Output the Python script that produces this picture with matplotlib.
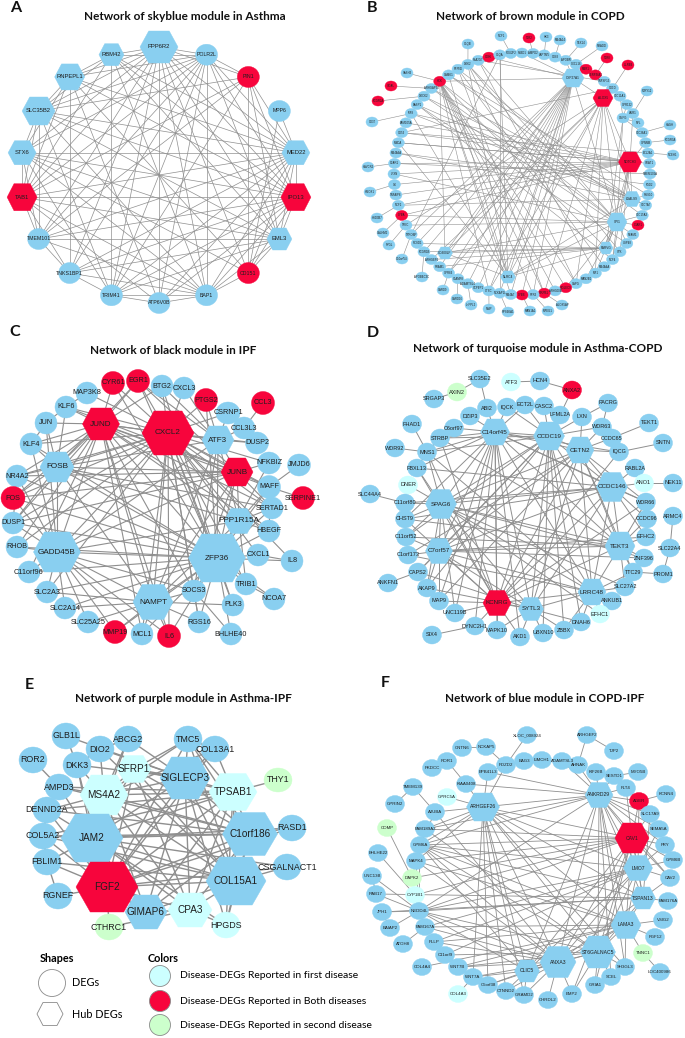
import numpy as np
import matplotlib.pyplot as plt
from matplotlib.patches import Ellipse, Polygon
from matplotlib.collections import LineCollection

# colour groups: 1 = reported in both diseases, 2 = reported in first disease,
# 3 = reported in second disease, anything not listed = plain module DEG (0)

# ---------------- A: skyblue module in Asthma ----------------
A_genes = ['PPP6R2', 'POLR2L', 'PIN1', 'MPP6', 'MED22', 'IPO13', 'EML3', 'CD151', 'BAP1',
           'ATP6V0B', 'TRIM41', 'TNKS1BP1', 'TMEM101', 'TAB1', 'STX6', 'SLC35B2', 'RNPEPL1', 'RBM42']
A_hubs = ['PPP6R2', 'MED22', 'IPO13', 'EML3', 'TAB1', 'STX6', 'SLC35B2', 'RNPEPL1', 'RBM42']
A_groups = {'PIN1': 1, 'IPO13': 1, 'CD151': 1, 'TAB1': 1}
A_edges = """
PPP6R2: RBM42 POLR2L RNPEPL1 SLC35B2 STX6 TAB1 TMEM101 TNKS1BP1 TRIM41 ATP6V0B BAP1 CD151 EML3 IPO13 MED22 PIN1
RBM42: POLR2L RNPEPL1 SLC35B2 TRIM41 IPO13 MED22 EML3 TAB1 BAP1
RNPEPL1: SLC35B2 STX6 TNKS1BP1 MED22 IPO13 POLR2L ATP6V0B CD151 TAB1
SLC35B2: STX6 TAB1 TMEM101 MED22 IPO13 EML3 BAP1 POLR2L PIN1 TRIM41
STX6: TAB1 TMEM101 MED22 IPO13 EML3 BAP1 POLR2L TRIM41 CD151
TAB1: TMEM101 TNKS1BP1 IPO13 EML3 MED22 POLR2L BAP1 ATP6V0B PIN1
TMEM101: TNKS1BP1 EML3 IPO13 MED22 POLR2L BAP1 PIN1
TNKS1BP1: TRIM41 IPO13 MED22 POLR2L EML3 BAP1
TRIM41: ATP6V0B BAP1 IPO13 MED22 POLR2L PIN1 EML3
ATP6V0B: BAP1 IPO13 MED22 POLR2L
BAP1: POLR2L IPO13 MED22 CD151 EML3
CD151: PIN1 IPO13 MED22 EML3
EML3: IPO13 MED22 POLR2L PIN1
IPO13: MED22 POLR2L PIN1
MED22: POLR2L PIN1 MPP6
MPP6: CD151
POLR2L: PIN1
"""

# ---------------- B: brown module in COPD ----------------
B_ring = ['LPXN', 'C5AR1', 'MS4A6A', 'MNDA', 'CD53', 'FAM105A', 'IRF8', 'BASP1', 'DOCK2',
          'ARHGAP30', 'HCK', 'CAMK1', 'PTPN6', 'DOK2', 'PLA2G7', 'CD86', 'C1QA', 'POU2F2',
          'PLBD1', 'AMPD2', 'LAPTM5', 'CD83', 'APOBR', 'CXCL16', 'MSR1', 'SERPINA1', 'TNFSF13',
          'CD1D', 'SLC11A1', 'GPR132', 'LAIR1', 'NPL', 'SLC36A1', 'GPNMB', 'BCL2A1', 'SOAT1',
          'TMEM106A', 'FGD2', 'RGS10', 'SLC7A7', 'SLC15A3', 'C3AR1', 'NFAM1', 'USP48', 'SYK',
          'NCF4', 'MS4A4A', 'MR1', 'MAN2B1', 'CAPG', 'SIGLEC9', 'ARHGDIB', 'SIRPB1', 'FPR3',
          'CYBB', 'MS4A7', 'NCKAP1L', 'CTSC', 'SCPEP1', 'ADAMTSL4', 'SLAMF8', 'GPR84', 'PRAM1',
          'ARHGEF6', 'FCGR1B', 'RCSD1', 'TYROBP', 'TFEC', 'CYBA', 'NCF2', 'TNFAIP8', 'GK']
B_outer = ['SASH3', 'ITGAL', 'FCGR2A', 'CD37', 'HAVCR2', 'HMOX1', 'HSD3B7', 'CALHM2', 'PYGL',
           'C10orf54', 'APOBEC3C', 'CARD9', 'CARD16', 'LHFPL2', 'NAIP', 'RPS6KA1', 'MAN1A1',
           'MPEG1', 'ALOX5AP', 'C1QB', 'NCF1', 'TLR2', 'HK3', 'MS4A14', 'TEX14', 'NRADD',
           'TLR8', 'LILRB4', 'P2RY12', 'HAGH', 'FCGR3A', 'NCEH1']
B_inner = ['CYP27A1', 'ALOX5', 'NOTCH3', 'LGALS9', 'SPI1', 'NLRC4', 'CD300LF', 'PARVG', 'GMFG']
B_hubs = ['CYP27A1', 'ALOX5', 'NOTCH3', 'LGALS9', 'SPI1', 'NLRC4', 'CD300LF', 'PARVG']
B_groups = {g: 1 for g in ['HCK', 'CD86', 'MSR1', 'SERPINA1', 'C3AR1', 'SIGLEC9', 'SIRPB1',
                           'CYBB', 'CYBA', 'ALOX5', 'NOTCH3', 'ITGAL', 'FCGR2A', 'TLR2',
                           'TLR8', 'LILRB4']}
B_edges = """
CYP27A1: ALOX5 PLBD1 SPI1 CD86 HCK FCGR1B NCKAP1L CTSC SCPEP1 ADAMTSL4 MS4A7 CYBB NLRC4 CD300LF TYROBP RCSD1 FPR3 GPR84 SLAMF8 APOBR PRAM1 CXCL16
ALOX5: SPI1 NOTCH3 LGALS9 CTSC NLRC4 SIRPB1 CAPG GPR84 ARHGEF6 MR1 CD300LF TFEC
NOTCH3: LGALS9 SPI1 PARVG MNDA CD53 FAM105A IRF8 C5AR1 LPXN GK NCF2 TNFAIP8 CYBA SYK NCF4 GPNMB LAIR1
LGALS9: SPI1 MS4A6A IRF8 BASP1 DOCK2 PTPN6 NCF2 SLC7A7 RGS10 NLRC4
SPI1: PARVG HCK DOK2 PLA2G7 ARHGAP30 CYBA TFEC NLRC4 CD300LF SIGLEC9 MAN2B1 MR1 NCF4 USP48 C3AR1 SLC15A3 LPXN
HCK: NLRC4 CD300LF MS4A7 CTSC SIRPB1 FPR3 PARVG ARHGDIB CAPG SIGLEC9
NLRC4: CD300LF PARVG DOK2 C1QA CAMK1 IRF8 MNDA
PARVG: CD300LF FCGR1B RCSD1 PRAM1 ARHGEF6 GMFG
GMFG: SLC11A1 GPR132 LAIR1 NPL SLC36A1 SPI1
PTPN6: SIRPB1 MS4A4A
DOK2: SYK CAPG
PLA2G7: MR1 TNFSF13
C1QA: NCKAP1L TYROBP
BASP1: USP48 NCF4
DOCK2: NFAM1
ARHGAP30: SLC7A7
CAMK1: SLC15A3 RGS10
MS4A6A: FGD2
C5AR1: TMEM106A
MNDA: SOAT1
CD53: BCL2A1 CD1D
SASH3: HCK
ITGAL: ARHGAP30
FCGR2A: DOCK2
CD37: IRF8
HAVCR2: C5AR1
HMOX1: GK
HSD3B7: NCF2
CALHM2: CYBA
PYGL: TFEC
C10orf54: TYROBP
APOBEC3C: FCGR1B
CARD9: GPR84
CARD16: SLAMF8
LHFPL2: ADAMTSL4
NAIP: CTSC
RPS6KA1: NCKAP1L
MAN1A1: CYBB
MPEG1: FPR3
ALOX5AP: SIRPB1
C1QB: DOK2
NCF1: POU2F2
TLR2: AMPD2
HK3: LAPTM5
MS4A14: CD83
TEX14: APOBR
NRADD: CXCL16
TLR8: SERPINA1
LILRB4: CD1D
P2RY12: LAIR1
HAGH: SLC36A1
FCGR3A: GPNMB
NCEH1: BCL2A1
"""

# ---------------- C: black module in IPF ----------------
C_genes = ['CYR61', 'EGR1', 'BTG2', 'CXCL3', 'PTGS2', 'CCL3', 'MAP3K8', 'KLF6', 'JUND', 'CXCL2',
           'CSRNP1', 'CCL3L3', 'ATF3', 'DUSP2', 'JUN', 'KLF4', 'FOSB', 'NR4A2', 'JUNB', 'NFKBIZ',
           'JMJD6', 'MAFF', 'SERPINE1', 'FOS', 'SERTAD1', 'PPP1R15A', 'HBEGF', 'DUSP1', 'RHOB',
           'GADD45B', 'ZFP36', 'CXCL1', 'IL8', 'C11orf96', 'SLC2A3', 'SOCS3', 'TRIB1', 'NCOA7',
           'NAMPT', 'SLC2A14', 'PLK3', 'SLC25A25', 'RGS16', 'MMP19', 'MCL1', 'IL6', 'BHLHE40']
C_hubs = ['JUND', 'CXCL2', 'ATF3', 'FOSB', 'JUNB', 'PPP1R15A', 'GADD45B', 'ZFP36', 'NAMPT']
C_groups = {g: 1 for g in ['CYR61', 'EGR1', 'PTGS2', 'CCL3', 'JUND', 'CXCL2', 'JUNB', 'FOS',
                           'SERPINE1', 'MMP19', 'IL6']}
C_edges = """
CXCL2: JUND FOSB ATF3 ZFP36 GADD45B NAMPT JUNB PTGS2 EGR1 CYR61 CXCL3 BTG2 CSRNP1 IL6 MCL1 SOCS3 CXCL1 IL8 PPP1R15A NR4A2 FOS DUSP1 KLF4 SERTAD1 MAFF NFKBIZ TRIB1 PLK3 RGS16 HBEGF KLF6 MAP3K8 DUSP2 SLC2A3 RHOB
JUND: EGR1 CYR61 KLF6 JUN KLF4 FOSB NR4A2 FOS GADD45B ZFP36 NAMPT JUNB ATF3 PPP1R15A SOCS3 MAFF DUSP1 RHOB HBEGF BTG2 C11orf96 MCL1 SERTAD1 IL6
ZFP36: GADD45B FOSB JUNB ATF3 PPP1R15A NAMPT SOCS3 CXCL1 IL8 TRIB1 NCOA7 PLK3 RGS16 BHLHE40 MCL1 IL6 MMP19 HBEGF SERTAD1 MAFF NFKBIZ DUSP1 FOS RHOB C11orf96 SLC2A3 SLC2A14 EGR1 CYR61 BTG2 KLF4 NR4A2 PTGS2
GADD45B: FOSB DUSP1 RHOB C11orf96 SLC2A3 SLC2A14 NAMPT SLC25A25 MMP19 ATF3 JUNB PPP1R15A SOCS3 KLF4 JUN FOS NR4A2 MCL1 IL6
FOSB: KLF4 NR4A2 FOS JUN KLF6 JUNB ATF3 DUSP1 NAMPT EGR1 SERTAD1 PPP1R15A
ATF3: CSRNP1 CCL3L3 DUSP2 JUNB PTGS2 BTG2 NAMPT PPP1R15A SOCS3 EGR1 CXCL3
JUNB: NFKBIZ MAFF SERTAD1 PPP1R15A DUSP1 FOS NR4A2 NAMPT SOCS3 KLF6 EGR1
NAMPT: SOCS3 MCL1 IL6 MMP19 SLC25A25 SLC2A14 SLC2A3 RGS16 PLK3 PPP1R15A
MAFF: JMJD6 SERPINE1 SERTAD1 HBEGF PPP1R15A
PPP1R15A: HBEGF SERTAD1 TRIB1
CXCL1: IL8
TRIB1: NCOA7
CCL3: CCL3L3
DUSP1: NR4A2
KLF4: JUN
KLF6: JUN MAP3K8
SOCS3: RGS16 BHLHE40
"""

# ---------------- D: turquoise module in Asthma-COPD ----------------
D_genes = ['SLC35E2', 'ATF3', 'HCN4', 'ANXA2', 'AXIN2', 'SRGAP3', 'ABI2', 'IQCK', 'ECT2L', 'CASC2',
           'LFML2A', 'PACRG', 'DZIP3', 'C6orf97', 'FHAD1', 'C14orf45', 'CCDC19', 'LXN', 'WDR63',
           'TEKT1', 'STRBP', 'CCDC65', 'SNTN', 'WDR92', 'MNS1', 'CETN2', 'IQCG', 'FBXL13',
           'RABL2A', 'DNER', 'CCDC146', 'ANO1', 'NEK11', 'SLC44A4', 'C11orf80', 'SPAG6', 'WDR66',
           'CHST9', 'CCDC96', 'ARMC4', 'C11orf52', 'EFHC2', 'C7orf57', 'TEKT3', 'SLC22A4',
           'C1orf173', 'ZNF396', 'TTC29', 'PROM1', 'CAPS2', 'ANKFN1', 'AKAP9', 'SLC27A2',
           'LRRC48', 'ANKUB1', 'MAP9', 'KCNRG', 'SYTL3', 'UNC119B', 'EFHC1', 'SIX4', 'DYNC2H1',
           'MAPK10', 'AKD1', 'UBXN10', 'ZBBX', 'DNAH6']
D_hubs = ['C14orf45', 'CCDC19', 'CETN2', 'CCDC146', 'SPAG6', 'C7orf57', 'TEKT3', 'LRRC48',
          'KCNRG', 'SYTL3']
D_groups = {'ANXA2': 1, 'KCNRG': 1, 'ATF3': 2, 'DNER': 2, 'ANO1': 2, 'EFHC1': 2, 'AXIN2': 3}
D_edges = """
C14orf45: ABI2 IQCK ECT2L DZIP3 C6orf97 STRBP MNS1 CCDC19 CETN2 SPAG6 C7orf57 TEKT3 LRRC48 KCNRG SYTL3 CCDC146 FBXL13 CHST9 MAP9 UNC119B AKD1 MAPK10 DYNC2H1 IQCG WDR66
CCDC19: CASC2 LFML2A LXN ECT2L IQCK CETN2 SPAG6 C7orf57 TEKT3 LRRC48 KCNRG SYTL3 CCDC146 MNS1 STRBP WDR63 AKAP9 CAPS2 ZBBX UBXN10 DNAH6 C11orf52
CETN2: LXN WDR63 CCDC65 IQCG CCDC146 TEKT3 LRRC48 KCNRG SPAG6 C7orf57 SYTL3 WDR66 TTC29 MAP9 C1orf173
CCDC146: RABL2A ANO1 WDR66 CCDC96 EFHC2 TEKT3 SPAG6 C7orf57 KCNRG LRRC48 FBXL13 C11orf80 CHST9 SYTL3
SPAG6: DNER C11orf80 CHST9 C11orf52 C7orf57 MNS1 FBXL13 TEKT3 LRRC48 KCNRG SYTL3 ZNF396 SLC27A2 AKAP9 UNC119B EFHC1
C7orf57: C11orf52 C1orf173 CAPS2 AKAP9 TEKT3 KCNRG LRRC48 SYTL3 EFHC2 ZNF396 MAP9
TEKT3: EFHC2 ZNF396 TTC29 CCDC96 WDR66 LRRC48 SLC27A2 KCNRG CHST9 C11orf52 STRBP
LRRC48: SLC27A2 ANKUB1 EFHC1 DNAH6 ZBBX KCNRG SYTL3 TTC29 C1orf173 MNS1
KCNRG: SYTL3 MAP9 UNC119B DYNC2H1 MAPK10 AKD1 FBXL13 MNS1 STRBP CHST9 WDR66 IQCG
SYTL3: AKD1 UBXN10 ZBBX MAPK10 DNAH6 AKAP9 CAPS2
AXIN2: SLC35E2 SRGAP3
SLC35E2: ABI2
ATF3: HCN4
HCN4: ANXA2
ANXA2: LFML2A
PACRG: WDR63 LXN
TEKT1: CCDC65
SNTN: IQCG
FHAD1: MNS1
WDR92: MNS1
ANO1: NEK11
SLC44A4: C11orf80
ARMC4: SLC22A4
SLC22A4: PROM1
PROM1: TTC29
ANKFN1: CAPS2
SIX4: DYNC2H1
MNS1: FBXL13 STRBP
DZIP3: ABI2
"""

# ---------------- E: purple module in Asthma-IPF ----------------
E_genes = ['GLB1L', 'ABCG2', 'TMC5', 'DIO2', 'COL13A1', 'ROR2', 'DKK3', 'SFRP1', 'SIGLECP3',
           'THY1', 'AMPD3', 'TPSAB1', 'MS4A2', 'DENND2A', 'JAM2', 'C1orf186', 'RASD1', 'COL5A2',
           'FBLIM1', 'CSGALNACT1', 'FGF2', 'COL15A1', 'RGNEF', 'GIMAP6', 'CPA3', 'CTHRC1', 'HPGDS']
E_hubs = ['SFRP1', 'SIGLECP3', 'TPSAB1', 'MS4A2', 'JAM2', 'C1orf186', 'FGF2', 'COL15A1',
          'GIMAP6', 'CPA3']
E_groups = {'FGF2': 1, 'SFRP1': 2, 'TPSAB1': 2, 'MS4A2': 2, 'CPA3': 2, 'HPGDS': 2,
            'THY1': 3, 'CTHRC1': 3}
E_edges = """
FGF2: JAM2 GIMAP6 CPA3 COL15A1 C1orf186 SIGLECP3 TPSAB1 MS4A2 SFRP1 FBLIM1 RGNEF COL5A2 DENND2A CTHRC1 DKK3 TMC5 COL13A1 CSGALNACT1 RASD1
JAM2: MS4A2 SIGLECP3 TPSAB1 C1orf186 COL15A1 CPA3 GIMAP6 COL5A2 DENND2A FBLIM1 AMPD3 DKK3 SFRP1 ABCG2 HPGDS CSGALNACT1 RASD1
SIGLECP3: TMC5 COL13A1 SFRP1 TPSAB1 MS4A2 C1orf186 COL15A1 CPA3 GIMAP6 DIO2 ABCG2 HPGDS DKK3 GLB1L
C1orf186: TPSAB1 COL15A1 RASD1 MS4A2 CPA3 GIMAP6 SFRP1 DENND2A COL5A2 AMPD3 TMC5 HPGDS
COL15A1: TPSAB1 CSGALNACT1 CPA3 HPGDS GIMAP6 MS4A2 SFRP1 DIO2 COL5A2 FBLIM1 TMC5
TPSAB1: THY1 MS4A2 CPA3 SFRP1 TMC5 COL13A1 GIMAP6 HPGDS DENND2A AMPD3 COL5A2
MS4A2: SFRP1 CPA3 GIMAP6 DIO2 DKK3 AMPD3 DENND2A ABCG2 TMC5 COL13A1
CPA3: GIMAP6 HPGDS CTHRC1 SFRP1
ROR2: AMPD3
GLB1L: DKK3
DIO2: DKK3 ABCG2
RGNEF: FBLIM1
FBLIM1: COL5A2
COL5A2: DENND2A
TMC5: COL13A1 SFRP1
"""

# ---------------- F: blue module in COPD-IPF ----------------
F_genes = ['XLOC_008924', 'ARHGEF2', 'CNTN6', 'NCKAP5', 'TJP2', 'ROR1', 'PDZD2', 'BAG3',
           'LIMCH1', 'ADAMTSL3', 'AHNAK', 'PKDCC', 'EPB41L3', 'KIF26B', 'SESTD1', 'MYO5B',
           'TMEM139', 'KIAA0408', 'GPRC5A', 'ANKRD29', 'FLT4', 'AGER', 'KCNN4', 'GPRIN2',
           'ARHGEF26', 'AJUBA', 'SLC17A9', 'COMP', 'FAM189A2', 'CAV1', 'SEMA5A', 'GPM6A', 'FRY',
           'BHLHE22', 'MAPK4', 'GPM6B', 'LMO7', 'UNC13B', 'DAPK2', 'CAV2', 'RAB17', 'CYP1B1',
           'TSPAN13', 'FAM176A', 'JPH1', 'NEDD4L', 'LAMA3', 'VSIG2', 'FAM167A', 'BAIAP2',
           'FGF12', 'PLLP', 'ATOH8', 'ST6GALNAC5', 'TNNC1', 'C11orf9', 'ANXA3', 'WNT7B',
           'COL4A4', 'SH3GL3', 'CLIC5', 'LOC400986', 'WNT7A', 'SCEL', 'C5orf38', 'GRIA1',
           'CTNND2', 'GRAMD2', 'EMP2', 'COL4A3', 'CHRDL2']
F_hubs = ['ANKRD29', 'ARHGEF26', 'CAV1', 'LMO7', 'TSPAN13', 'LAMA3', 'ST6GALNAC5', 'ANXA3', 'CLIC5']
F_groups = {'AGER': 1, 'CAV1': 1, 'GPRC5A': 2, 'CYP1B1': 2, 'COL4A3': 2,
            'COMP': 3, 'DAPK2': 3, 'TNNC1': 3}
F_edges = """
ANKRD29: AHNAK KIF26B SESTD1 FLT4 AGER CAV1 LMO7 TSPAN13 LAMA3 ST6GALNAC5 ANXA3 CLIC5 ARHGEF26 KIAA0408 GPM6A NEDD4L SLC17A9 SEMA5A FRY CAV2 SH3GL3 SCEL ADAMTSL3 EPB41L3 FAM189A2
ARHGEF26: EPB41L3 PDZD2 AJUBA FAM189A2 GPM6A ANXA3 CLIC5 ST6GALNAC5 LAMA3 CAV1 LMO7 TSPAN13 C5orf38 CTNND2 GRAMD2 WNT7A MAPK4 SH3GL3 KIAA0408 GPRC5A
CAV1: AGER SLC17A9 SEMA5A FRY GPM6B LMO7 TSPAN13 LAMA3 ST6GALNAC5 ANXA3 CLIC5 GPM6A FAM189A2 NEDD4L CYP1B1 DAPK2 MAPK4 FLT4 CAV2 GRIA1 EMP2
LMO7: TSPAN13 LAMA3 ST6GALNAC5 ANXA3 CLIC5 CAV2 FRY GPM6B NEDD4L GPM6A FAM167A PLLP C11orf9 SEMA5A AGER
TSPAN13: LAMA3 ST6GALNAC5 ANXA3 FAM176A CAV2 GPM6A NEDD4L JPH1 RAB17 SLC17A9
LAMA3: ST6GALNAC5 ANXA3 CLIC5 VSIG2 TNNC1 SH3GL3 FGF12 GPM6A MAPK4 FAM167A COL4A4 WNT7B PLLP
ST6GALNAC5: ANXA3 CLIC5 SCEL GRIA1 EMP2 SH3GL3 GPM6A NEDD4L C11orf9 WNT7B FAM189A2
ANXA3: CLIC5 CHRDL2 EMP2 GRAMD2 CTNND2 C5orf38 WNT7A WNT7B GPM6A MAPK4 NEDD4L FAM167A PLLP AJUBA
CLIC5: CTNND2 GRAMD2 C5orf38 WNT7A GPM6A NEDD4L
GPM6A: FAM189A2 MAPK4 NEDD4L AJUBA DAPK2
NEDD4L: RAB17 JPH1 FAM167A CYP1B1 MAPK4 BAIAP2 UNC13B
XLOC_008924: PDZD2
ARHGEF2: AHNAK TJP2
NCKAP5: PDZD2 CNTN6
ROR1: KIAA0408 PKDCC
PDZD2: EPB41L3 BAG3
KIF26B: SESTD1
SESTD1: MYO5B
AGER: KCNN4 FLT4
COMP: DAPK2
BHLHE22: CYP1B1
TMEM139: GPRIN2 AJUBA
TNNC1: LOC400986
ATOH8: FAM167A
BAIAP2: JPH1
UNC13B: RAB17
COL4A3: WNT7A
SH3GL3: SCEL
"""

titles = ['Network of skyblue module in Asthma', 'Network of brown module in COPD',
          'Network of black module in IPF', 'Network of turquoise module in Asthma-COPD',
          'Network of purple module in Asthma-IPF', 'Network of blue module in COPD-IPF']
letters = ['A', 'B', 'C', 'D', 'E', 'F']
legend_colour_labels = ['Disease-DEGs Reported in first disease',
                        'Disease-DEGs Reported in Both diseases',
                        'Disease-DEGs Reported in second disease']

# ---------------- layout (pixel positions, x, y, width, height) ----------------
A_size = {'PPP6R2': (38, 32), 'TAB1': (30, 27), 'IPO13': (30, 27), 'SLC35B2': (33, 28),
          'RNPEPL1': (30, 26), 'STX6': (28, 24), 'MED22': (28, 24), 'EML3': (25, 22),
          'RBM42': (25, 22)}
A_layout = {}
for i, g in enumerate(A_genes):
    t = np.radians(i * 360 / len(A_genes))
    w, h = A_size.get(g, (22, 21))
    A_layout[g] = (159 + 139 * np.sin(t), 175 - 128 * np.cos(t), w, h)

B_layout = {}
for i, g in enumerate(B_ring):
    t = np.radians(-90 + i * 360 / len(B_ring))
    B_layout[g] = (522 + 128 * np.sin(t), 174 - 121 * np.cos(t), 12, 10)
B_outer_xy = [(407, 73), (391, 86), (378, 101), (372, 122), (368, 167), (370, 192), (377, 218),
              (383, 233), (389, 245), (402, 259), (422, 277), (443, 290), (457, 299), (471, 305),
              (489, 309), (508, 312), (530, 311), (548, 311), (562, 305), (468, 44), (501, 36),
              (529, 38), (546, 37), (560, 40), (581, 43), (602, 46), (607, 58), (628, 65),
              (647, 91), (670, 125), (670, 140), (673, 155)]
for g, (x, y) in zip(B_outer, B_outer_xy):
    B_layout[g] = (x, y, 12, 10)
B_inner_box = [(573, 78, 22, 18), (603, 98, 20, 17), (630, 162, 23, 20), (632, 199, 17, 15),
               (617, 222, 20, 18), (508, 277, 15, 12), (445, 253, 15, 12), (606, 248, 14, 12),
               (623, 118, 12, 10)]
for g, box in zip(B_inner, B_inner_box):
    B_layout[g] = box

C_box = [(113, 383, 23, 23), (138, 381, 23, 23), (162, 386, 22, 22), (184, 388, 22, 22),
         (206, 400, 23, 23), (263, 403, 23, 23), (87, 393, 22, 22), (66, 407, 22, 22),
         (101, 424, 37, 32), (168, 433, 52, 44), (228, 413, 24, 22), (244, 428, 22, 22),
         (218, 440, 32, 28), (257, 443, 23, 22), (46, 423, 22, 22), (31, 444, 22, 22),
         (57, 467, 34, 30), (17, 476, 22, 22), (237, 472, 32, 28), (269, 463, 23, 22),
         (299, 465, 23, 22), (269, 487, 23, 23), (303, 498, 23, 23), (13, 498, 24, 23),
         (272, 508, 22, 22), (239, 521, 30, 25), (269, 531, 22, 22), (13, 523, 22, 22),
         (17, 547, 22, 22), (57, 552, 47, 40), (217, 558, 57, 48), (258, 555, 22, 22),
         (292, 561, 22, 22), (29, 572, 22, 22), (47, 592, 22, 22), (194, 591, 24, 22),
         (246, 584, 22, 22), (274, 599, 22, 22), (153, 602, 40, 35), (65, 608, 22, 22),
         (233, 605, 22, 22), (88, 622, 22, 22), (199, 622, 22, 22), (115, 632, 23, 23),
         (142, 634, 22, 22), (169, 636, 23, 23), (231, 634, 22, 22)]
C_layout = dict(zip(C_genes, C_box))

D_xy = [(480, 379), (511, 382), (540, 381), (572, 390), (457, 392), (434, 399), (487, 408),
        (507, 407), (525, 405), (544, 406), (560, 415), (608, 403), (470, 416), (454, 428),
        (412, 424), (495, 432), (549, 436), (582, 417), (602, 427), (649, 423), (440, 438),
        (612, 438), (663, 443), (395, 448), (427, 452), (580, 450), (619, 452), (417, 468),
        (635, 468), (408, 485), (612, 487), (644, 483), (673, 483), (370, 494), (405, 503),
        (441, 504), (646, 502), (405, 519), (647, 519), (673, 516), (406, 537), (646, 537),
        (439, 551), (620, 546), (670, 548), (408, 555), (644, 558), (633, 572), (663, 574),
        (418, 572), (388, 583), (427, 588), (625, 587), (592, 592), (612, 601), (439, 601),
        (497, 603), (531, 609), (455, 613), (600, 614), (432, 635), (475, 626), (497, 630),
        (520, 637), (543, 633), (564, 630), (581, 622)]
D_size = {'C14orf45': (29, 26), 'CCDC19': (31, 28), 'CETN2': (28, 26), 'CCDC146': (31, 29),
          'SPAG6': (31, 29), 'C7orf57': (27, 25), 'TEKT3': (30, 28), 'LRRC48': (28, 26),
          'KCNRG': (28, 25), 'SYTL3': (25, 23)}
D_layout = {g: (x, y) + D_size.get(g, (19, 18)) for g, (x, y) in zip(D_genes, D_xy)}

E_box = [(66, 736, 28, 26), (128, 739, 28, 26), (188, 739, 28, 26), (100, 749, 28, 26),
         (215, 749, 28, 26), (33, 760, 28, 26), (77, 765, 28, 26), (134, 769, 34, 27),
         (185, 778, 50, 42), (278, 780, 28, 24), (59, 787, 28, 26), (233, 792, 48, 37),
         (104, 795, 48, 40), (47, 810, 28, 26), (92, 838, 62, 48), (250, 834, 55, 43),
         (292, 828, 28, 26), (43, 836, 28, 26), (47, 862, 28, 26), (287, 867, 28, 26),
         (107, 887, 62, 50), (236, 881, 60, 48), (58, 896, 28, 26), (146, 912, 42, 34),
         (190, 910, 44, 34), (109, 927, 28, 26), (226, 925, 28, 26)]
E_layout = dict(zip(E_genes, E_box))

F_xy = [(527, 735), (587, 735), (462, 748), (486, 747), (614, 751), (447, 761), (506, 765),
        (524, 761), (542, 760), (562, 761), (578, 765), (432, 768), (488, 772), (596, 772),
        (614, 776), (638, 772), (413, 787), (466, 784), (447, 797), (599, 795), (626, 788),
        (639, 801), (666, 794), (395, 804), (483, 807), (435, 812), (650, 814), (387, 828),
        (425, 829), (632, 838), (659, 829), (420, 845), (665, 845), (378, 853), (416, 861),
        (673, 860), (638, 868), (372, 876), (412, 878), (670, 878), (376, 894), (415, 895),
        (643, 898), (668, 901), (382, 912), (419, 911), (626, 925), (663, 920), (425, 927),
        (390, 928), (655, 937), (434, 942), (403, 944), (598, 952), (643, 953), (445, 955),
        (558, 962), (458, 967), (422, 967), (625, 967), (527, 971), (660, 972), (473, 977),
        (611, 977), (488, 985), (595, 985), (506, 991), (524, 995), (572, 994), (458, 994),
        (548, 1000)]
F_size = {'ANKRD29': (28, 25), 'ARHGEF26': (33, 28), 'CAV1': (34, 30), 'LMO7': (29, 25),
          'TSPAN13': (25, 22), 'LAMA3': (30, 27), 'ST6GALNAC5': (35, 32), 'ANXA3': (36, 31),
          'CLIC5': (25, 22)}
F_layout = {g: (x, y) + F_size.get(g, (19, 17)) for g, (x, y) in zip(F_genes, F_xy)}

fill = {0: '#89CFF0', 1: '#F7053C', 2: '#CCFFFF', 3: '#CCFFCC'}
label_font = ['Liberation Sans', 'DejaVu Sans']

fig = plt.figure(figsize=(6.85, 10.38), dpi=100)
ax = fig.add_axes([0, 0, 1, 1])
ax.set_xlim(0, 685)
ax.set_ylim(1038, 0)
ax.axis('off')


def hexagon(x, y, w, h):
    return [(x - w / 2, y), (x - w * 0.27, y - h / 2), (x + w * 0.27, y - h / 2),
            (x + w / 2, y), (x + w * 0.27, y + h / 2), (x - w * 0.27, y + h / 2)]


def draw_panel(layout, hubs, groups, edges, fs, lw):
    segs = []
    for line in edges.strip().splitlines():
        src, rest = line.split(':')
        for dst in rest.split():
            a, b = layout[src.strip()], layout[dst]
            segs.append([(a[0], a[1]), (b[0], b[1])])
    ax.add_collection(LineCollection(segs, colors='#8f8f8f', linewidths=lw, zorder=1))
    for g, (x, y, w, h) in layout.items():
        c = fill[groups.get(g, 0)]
        if g in hubs:
            ax.add_patch(Polygon(hexagon(x, y, w, h), closed=True, fc=c, ec=c, lw=0.3, zorder=2))
        else:
            ax.add_patch(Ellipse((x, y), w, h, fc=c, ec=c, lw=0.3, zorder=2))
        big = fs * 1.12 if g in hubs else fs
        ax.text(x, y, g, fontsize=big, ha='center', va='center', color='#1e1e1e',
                family=label_font, zorder=3)


draw_panel(A_layout, A_hubs, A_groups, A_edges, 3.8, 0.5)
draw_panel(B_layout, B_hubs, B_groups, B_edges, 2.0, 0.4)
draw_panel(C_layout, C_hubs, C_groups, C_edges, 5.2, 0.8)
draw_panel(D_layout, D_hubs, D_groups, D_edges, 4.0, 0.7)
draw_panel(E_layout, E_hubs, E_groups, E_edges, 6.4, 1.0)
draw_panel(F_layout, F_hubs, F_groups, F_edges, 3.2, 0.6)

title_xy = [(185, 16), (530, 16), (173, 350), (538, 348), (183, 698), (545, 698)]
letter_xy = [(16, 8), (372, 8), (15, 332), (373, 333), (29, 685), (385, 683)]
for t, (x, y) in zip(titles, title_xy):
    ax.text(x, y, t, fontsize=8.5, fontweight='bold', family=['Lato', 'DejaVu Sans'],
            ha='center', va='center', color='#111111')
for t, (x, y) in zip(letters, letter_xy):
    ax.text(x, y, t, fontsize=11.5, fontweight='bold', family=['Lato', 'DejaVu Sans'],
            ha='center', va='center', color='#111111')

# legend
ax.text(40, 958, 'Shapes', fontsize=7.8, fontweight='bold', family='Lato', va='center')
ax.add_patch(Ellipse((52, 983), 27, 27, fc='white', ec='#8a8a8a', lw=0.6))
ax.text(72, 983, 'DEGs', fontsize=7.8, family='Lato', va='center')
ax.add_patch(Polygon(hexagon(50, 1014, 26, 23), closed=True, fc='white', ec='#8a8a8a', lw=0.6))
ax.text(72, 1014, 'Hub DEGs', fontsize=7.8, family='Lato', va='center')
ax.text(148, 958, 'Colors', fontsize=7.8, fontweight='bold', family='Lato', va='center')
for grp, label, y in zip([2, 1, 3], legend_colour_labels, [976, 1001, 1025]):
    ax.add_patch(Ellipse((160, y), 21, 21, fc=fill[grp], ec='#8a8a8a', lw=0.6))
    ax.text(180, y, label, fontsize=7.5, family='Lato', va='center')

fig.savefig('out.png', dpi=100)
